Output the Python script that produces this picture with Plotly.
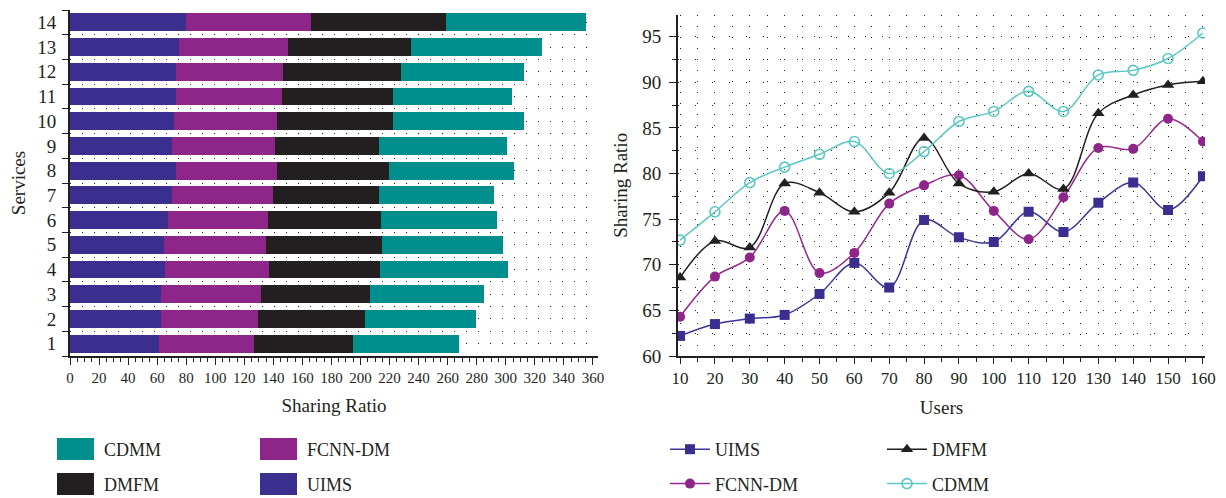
import plotly.graph_objects as go

# ---------------- data ----------------
services = list(range(1, 15))
uims_bar = [61.0, 62.4, 62.4, 65.2, 64.5, 67.2, 70.0, 72.7, 70.0, 71.4, 72.7, 72.7, 75.0, 79.6]
fcnn_bar = [65.4, 66.8, 68.8, 71.6, 70.1, 68.8, 69.7, 69.8, 71.0, 71.1, 73.0, 73.9, 74.8, 86.3]
dmfm_bar = [68.4, 73.8, 75.3, 76.6, 80.1, 78.0, 73.0, 77.0, 71.7, 79.8, 76.6, 81.2, 84.9, 92.9]
cdmm_bar = [72.9, 76.4, 78.4, 88.0, 83.3, 79.9, 79.1, 86.1, 88.1, 90.2, 81.9, 84.7, 90.1, 96.2]

users = [10, 20, 30, 40, 50, 60, 70, 80, 90, 100, 110, 120, 130, 140, 150, 160]
uims_line = [62.2, 63.5, 64.1, 64.5, 66.8, 70.2, 67.5, 74.9, 73.0, 72.5, 75.8, 73.6, 76.8, 79.0, 76.0, 79.7]
fcnn_line = [64.3, 68.7, 70.8, 75.9, 69.1, 71.3, 76.7, 78.7, 79.8, 75.9, 72.8, 77.4, 82.8, 82.7, 86.0, 83.5]
dmfm_line = [68.6, 72.6, 71.9, 78.9, 77.9, 75.8, 77.9, 83.9, 78.9, 78.0, 80.0, 78.3, 86.6, 88.6, 89.7, 90.1]
cdmm_line = [72.7, 75.8, 79.0, 80.7, 82.1, 83.5, 80.0, 82.4, 85.7, 86.8, 89.0, 86.8, 90.8, 91.3, 92.6, 95.4]

# ---------------- style ----------------
C_CDMM = "#008F8C"
C_FCNN = "#8E2589"
C_DMFM = "#231F20"
C_UIMS = "#3A2F8F"
C_CDMM_L = "#5CC8C3"
C_FCNN_L = "#96278F"
C_UIMS_L = "#3C3399"
TXT = "#231F20"
FONT = "Liberation Serif"

OFF = 8  # page body margin
W, H = 1226 - OFF, 498 - OFF
def px(x):  # screen x -> paper fraction
    return (x - OFF) / W
def py(y):  # screen y -> paper fraction
    return 1 - (y - OFF) / H

fig = go.Figure()

# stacked bars (left)
for name, vals, col in [("UIMS", uims_bar, C_UIMS), ("FCNN-DM", fcnn_bar, C_FCNN),
                        ("DMFM", dmfm_bar, C_DMFM), ("CDMM", cdmm_bar, C_CDMM)]:
    fig.add_trace(go.Bar(x=vals, y=services, orientation="h", name=name,
                         marker=dict(color=col, line=dict(width=0)), width=0.72,
                         xaxis="x", yaxis="y", showlegend=False))

# legend entries for bars (wide rectangles drawn as swatches)
bar_legend = [("CDMM", C_CDMM, "legend", 57, 449), ("DMFM", C_DMFM, "legend", 57, 484),
              ("FCNN-DM", C_FCNN, "legend2", 260, 449), ("UIMS", C_UIMS, "legend2", 260, 484)]
for name, col, lg, sx, sy in bar_legend:
    fig.add_trace(go.Scatter(x=[None], y=[None], mode="lines", name=name,
                             line=dict(color="rgba(0,0,0,0)", width=1), xaxis="x", yaxis="y",
                             legend=lg, legendgroup=name, hoverinfo="skip"))
    fig.add_shape(type="rect", xref="paper", yref="paper",
                  x0=px(sx), x1=px(sx + 37), y0=py(sy + 11), y1=py(sy - 11),
                  fillcolor=col, line=dict(width=0), layer="above")

# lines (right)
line_specs = [
    ("UIMS", uims_line, C_UIMS_L, dict(symbol="square", size=10, color=C_UIMS), "legend3"),
    ("FCNN-DM", fcnn_line, C_FCNN_L, dict(symbol="circle", size=10, color=C_FCNN), "legend3"),
    ("DMFM", dmfm_line, C_DMFM, dict(symbol="triangle-up", size=11, color=C_DMFM), "legend4"),
    ("CDMM", cdmm_line, C_CDMM_L, dict(symbol="circle-open", size=10, color=C_CDMM_L,
                                        line=dict(width=1.6, color=C_CDMM_L)), "legend4"),
]
for name, vals, col, mk, lg in line_specs:
    fig.add_trace(go.Scatter(x=users, y=vals, mode="lines+markers", name=name,
                             line=dict(color=col, width=1.5, shape="spline", smoothing=1),
                             marker=mk, xaxis="x2", yaxis="y2", legend=lg, legendgroup=name))

axis_common = dict(showline=True, linecolor=TXT, linewidth=2, ticks="outside",
                   tickcolor=TXT, tickfont=dict(family=FONT, color=TXT), zeroline=False,
                   automargin=False,
                   title_font=dict(family=FONT, size=19, color=TXT))

legend_common = dict(orientation="v", font=dict(family=FONT, size=18, color=TXT),
                     bgcolor="rgba(0,0,0,0)", tracegroupgap=8, xanchor="left", yanchor="top",
                     itemwidth=40, itemclick=False, itemdoubleclick=False)

fig.update_layout(
    width=W, height=H,
    margin=dict(l=0, r=0, t=0, b=0, autoexpand=False),
    paper_bgcolor="white", plot_bgcolor="white",
    barmode="stack", bargap=0.28,
    font=dict(family=FONT, color=TXT),
    xaxis=dict(domain=[px(70), px(598)], range=[0, 363.5], anchor="y",
               tickvals=list(range(0, 361, 20)), ticklen=7, tickwidth=1.2,
               tickfont_size=15,
               minor=dict(dtick=5, tick0=0, ticklen=4, tickwidth=1, tickcolor=TXT, showgrid=False),
               showgrid=False,
               title=dict(text="Sharing Ratio", standoff=14), **axis_common),
    yaxis=dict(domain=[py(356), py(10)], range=[0.5, 14.5], anchor="x",
               tickvals=services, ticktext=[str(s) for s in services], ticklen=0,
               tickfont_size=19, ticklabelstandoff=8,
               showgrid=True, gridcolor="#231F20", gridwidth=1, griddash="1px,11px",
               minor=dict(tickvals=[s + 0.5 for s in range(0, 15)], ticklen=6, tickwidth=1.2,
                          tickcolor=TXT, showgrid=True, gridcolor="#231F20", gridwidth=1,
                          griddash="1px,11px"),
               title=dict(text="Services", standoff=8), **axis_common),
    xaxis2=dict(domain=[px(678), px(1205)], range=[9.4, 160.6], anchor="y2",
                tickvals=users, ticklen=6, tickwidth=1.2, tickfont_size=17,
                showgrid=True, gridcolor="#231F20", gridwidth=1, griddash="1px,10px",
                minor=dict(dtick=5, tick0=5, ticklen=4, tickwidth=1, tickcolor=TXT,
                           showgrid=True, gridcolor="#231F20", gridwidth=1, griddash="1px,10px"),
                title=dict(text="Users", standoff=13), **axis_common),
    yaxis2=dict(domain=[py(356), py(14.7)], range=[60, 97.4], anchor="x2",
                tickvals=[60, 65, 70, 75, 80, 85, 90, 95], ticklen=7, tickwidth=1.2,
                tickfont_size=19, ticklabelstandoff=4,
                showgrid=True, gridcolor="#231F20", gridwidth=1, griddash="1px,16px",
                minor=dict(dtick=2.5, tick0=0, ticklen=4, tickwidth=1, tickcolor=TXT,
                           showgrid=True, gridcolor="#231F20", gridwidth=1, griddash="1px,16px"),
                title=dict(text="Sharing Ratio", standoff=10), **axis_common),
    legend=dict(x=px(54), y=py(431), **legend_common),
    legend2=dict(x=px(257), y=py(431), **legend_common),
    legend3=dict(x=px(665), y=py(431), **legend_common),
    legend4=dict(x=px(882), y=py(431), **legend_common),
)

fig.write_html("out.html")
